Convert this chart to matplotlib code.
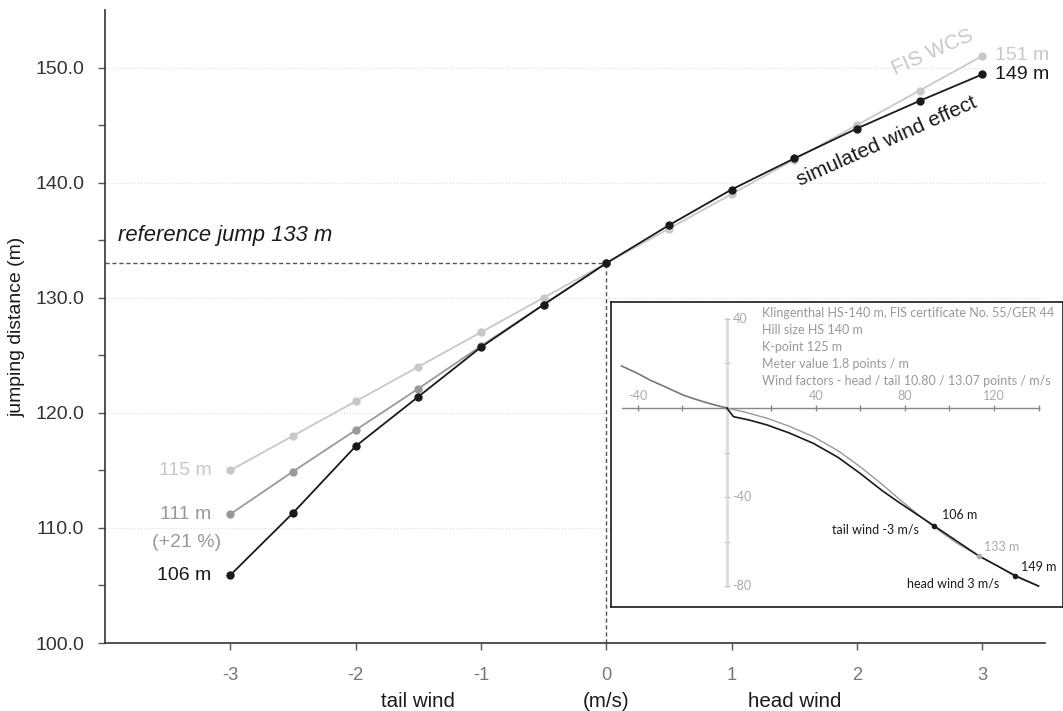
import matplotlib
matplotlib.use("Agg")
import matplotlib.pyplot as plt
from matplotlib import font_manager

# wind speed (m/s), negative = tail wind
wind = [-3, -2.5, -2, -1.5, -1, -0.5, 0, 0.5, 1, 1.5, 2, 2.5, 3]
simulated = [105.9, 111.3, 117.1, 121.4, 125.7, 129.4, 133.0, 136.3, 139.4, 142.1, 144.7, 147.1, 149.4]
fis_wcs = [115, 118, 121, 124, 127, 130, 133, 136, 139, 142, 145, 148, 151]
wind_tail = [-3, -2.5, -2, -1.5, -1, -0.5, 0]
fis_tail_21 = [111.2, 114.9, 118.5, 122.1, 125.8, 129.4, 133.0]
reference = 133

# hill profile Klingenthal (m)
inrun_x = [-47.3, -40, -34.6, -27, -19.6, -14, -9.1, -4, 0]
inrun_y = [18.9, 15.5, 12.6, 9.2, 5.8, 3.9, 2.4, 1.0, 0]
hill_x = [0, 8, 18, 28, 38.9, 50, 59.9, 70, 77.9, 86, 92.9, 103, 113.1, 122, 130, 140]
hill_y = [0, -1.8, -4.6, -8.2, -12.9, -19.2, -26.4, -34.5, -41.3, -48.0, -53.3, -60.5, -66.4, -71.2, -75.3, -80.0]
flight_x = [0, 3.0, 10, 18, 28, 38.9, 50, 59.9, 70, 77.9, 86, 92.9, 103, 113.1, 122, 129.6, 140]
flight_y = [0, -3.9, -5.4, -7.6, -11.2, -15.9, -22.2, -29.4, -37.3, -42.8, -48.2, -52.8, -59.6, -66.4, -71.2, -75.5, -80.0]
marks_x = [92.9, 113.1, 129.6]
marks_y = [-52.8, -66.4, -75.5]

black = "#1a1a1a"
mid = "#999999"
light = "#c8c8c8"

plt.rcParams['font.family'] = ['Liberation Sans', 'DejaVu Sans']
installed = {f.name for f in font_manager.fontManager.ttflist}
if 'Liberation Sans Narrow' in installed:
    narrow = ['Liberation Sans Narrow', 'DejaVu Sans']
    nscale = 1.0
else:
    narrow = ['Liberation Sans', 'DejaVu Sans']
    nscale = 0.82
inset_font = ['Lato', 'DejaVu Sans']
fs_in = 9.0

fig = plt.figure(figsize=(10.63, 7.11), dpi=100)
ax = fig.add_axes([0.0988, 0.0956, 0.8842, 0.8904])

ax.set_xlim(-4, 3.5)
ax.set_ylim(100, 155)
for s in ['top', 'right']:
    ax.spines[s].set_visible(False)
for s in ['left', 'bottom']:
    ax.spines[s].set_color('#333333')
    ax.spines[s].set_linewidth(1.2)

ax.set_yticks([100, 110, 120, 130, 140, 150])
ax.set_yticklabels([f"{v:.1f}" for v in [100, 110, 120, 130, 140, 150]])
ax.set_yticks([105, 115, 125, 135, 145], minor=True)
ax.tick_params(axis='y', which='both', direction='out', length=5, width=1, color='#555555',
               labelsize=14, labelcolor='#333333', pad=10)
ax.set_xticks([-3, -2, -1, 0, 1, 2, 3])
ax.set_xticklabels(['-3', '-2', '-1', '0', '1', '2', '3'], family=narrow, fontsize=16 * nscale,
                   color='#777777')
ax.tick_params(axis='x', direction='out', length=5, width=1, color='#555555', pad=12)
ax.grid(axis='y', which='major', color='#dddddd', linestyle=':', linewidth=0.8)
ax.set_axisbelow(True)

ax.set_ylabel('jumping distance (m)', family=narrow, fontsize=17 * nscale, color=black)
ax.yaxis.set_label_coords(-0.085, 0.5)

ax.plot(wind, fis_wcs, '-o', color=light, lw=1.3, ms=5, zorder=3)
ax.plot(wind_tail, fis_tail_21, '-o', color=mid, lw=1.3, ms=5, zorder=4)
ax.plot(wind, simulated, '-o', color=black, lw=1.3, ms=5, zorder=5)

ax.plot([-4, 0], [reference, reference], '--', color='#555555', lw=1, dashes=(3, 2))
ax.plot([0, 0], [100, reference], '--', color='#555555', lw=1, dashes=(3, 2))

ax.text(-3.9, 134.5, f'reference jump {reference} m', style='italic', fontsize=15.8, color=black,
        va='bottom', ha='left')

ax.text(-3.15, fis_wcs[0], f'{fis_wcs[0]} m', color=light, fontsize=14, ha='right', va='center')
ax.text(-3.15, fis_tail_21[0], f'{round(fis_tail_21[0])} m', color=mid, fontsize=14, ha='right', va='center')
ax.text(-3.07, fis_tail_21[0] - 2.5, '(+21 %)', color=mid, fontsize=14, ha='right', va='center')
ax.text(-3.15, simulated[0], f'{round(simulated[0])} m', color=black, fontsize=14, ha='right', va='center')
ax.text(3.1, fis_wcs[-1], f'{fis_wcs[-1]} m', color=light, fontsize=14, ha='left', va='center')
ax.text(3.1, simulated[-1], f'{round(simulated[-1])} m', color=black, fontsize=14, ha='left', va='center')

ax.text(2.6, 151.3, 'FIS WCS', color=light, fontsize=15, rotation=24, ha='center', va='center')
ax.text(2.24, 143.6, 'simulated wind effect', color=black, fontsize=15, rotation=24, ha='center', va='center')

for xx, lab in [(-1.5, 'tail wind'), (0, '(m/s)'), (1.5, 'head wind')]:
    ax.text(xx, -0.093, lab, transform=ax.get_xaxis_transform(), family=narrow, fontsize=18 * nscale,
            color=black, ha='center', va='center')

# inset: hill profile
ax2 = fig.add_axes([0.5748, 0.1463, 0.4252, 0.4289])
ax2.set_xlim(-52, 151)
ax2.set_ylim(-89.4, 47.6)
ax2.set_xticks([])
ax2.set_yticks([])
for s in ax2.spines.values():
    s.set_color(black)
    s.set_linewidth(1.2)
ax2.set_facecolor('white')

ax2.plot([0, 0], [-80, 40], color='#dddddd', lw=2, zorder=1)
ax2.plot([-47, 140], [0, 0], color='#888888', lw=1, zorder=1)
xt = [-40, -20, 20, 40, 60, 80, 100, 120, 140]
yt = [40, 20, -20, -40, -60, -80]
ax2.plot(xt, [0] * len(xt), '|', color='#888888', ms=5, mew=1, zorder=1)
ax2.plot([0] * len(yt), yt, '_', color='#cccccc', ms=5, mew=1, zorder=1)
for v in [-40, 40, 80, 120]:
    ax2.text(v, 2.5, str(v), family=inset_font, fontsize=fs_in, color='#aaaaaa',
             ha='center', va='bottom')
for v in [40, -40, -80]:
    ax2.text(2.5, v, str(v), family=inset_font, fontsize=fs_in, color='#aaaaaa',
             ha='left', va='center')

ax2.plot(inrun_x, inrun_y, color='#777777', lw=1.2, zorder=2)
ax2.plot(hill_x, hill_y, color='#999999', lw=1, zorder=2)
ax2.plot(flight_x, flight_y, color=black, lw=1.2, zorder=3)
ax2.plot([marks_x[0], marks_x[2]], [marks_y[0], marks_y[2]], 'o', color=black, ms=3, zorder=4)
ax2.plot([marks_x[1]], [marks_y[1]], 'o', color='#aaaaaa', ms=3, zorder=4)

info = ['Klingenthal HS-140 m, FIS certificate No. 55/GER 44',
        'Hill size HS 140 m',
        'K-point 125 m',
        'Meter value 1.8 points / m',
        'Wind factors - head / tail 10.80 / 13.07 points / m/s']
for i, line in enumerate(info):
    ax2.text(15.8, 42.5 - i * 7.6, line, family=inset_font, fontsize=fs_in, color='#999999',
             ha='left', va='center')

ax2.text(96.5, -48, '106 m', family=inset_font, fontsize=fs_in, color=black, ha='left', va='center')
ax2.text(86.4, -54.5, 'tail wind -3 m/s', family=inset_font, fontsize=fs_in, color=black, ha='right', va='center')
ax2.text(115.6, -62.3, '133 m', family=inset_font, fontsize=fs_in, color='#aaaaaa', ha='left', va='center')
ax2.text(132, -71.5, '149 m', family=inset_font, fontsize=fs_in, color=black, ha='left', va='center')
ax2.text(101.6, -78.7, 'head wind 3 m/s', family=inset_font, fontsize=fs_in, color=black, ha='center', va='center')

fig.savefig('out.png', dpi=100)
